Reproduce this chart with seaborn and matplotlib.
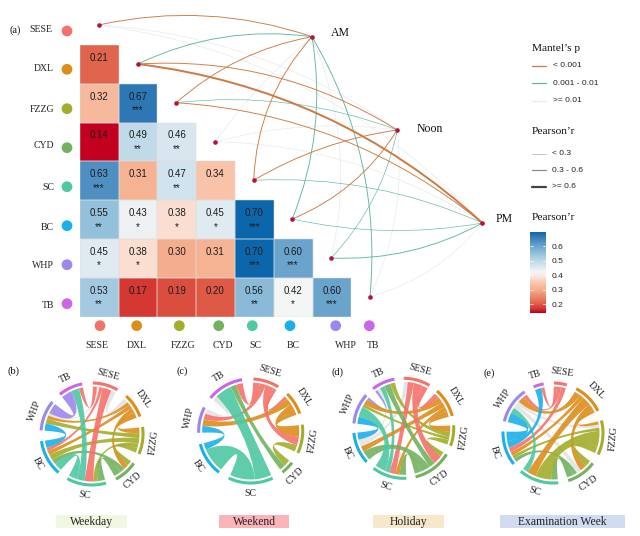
import numpy as np
import pandas as pd
import seaborn as sns
import matplotlib
matplotlib.use("Agg")
import matplotlib.pyplot as plt
from matplotlib.path import Path
from matplotlib.patches import PathPatch, Rectangle
from matplotlib.colors import LinearSegmentedColormap

# ---------- data ----------
VARS = ["SESE", "DXL", "FZZG", "CYD", "SC", "BC", "WHP", "TB"]
R_DXL = [.21]
R_FZZG = [.32, .67]
R_CYD = [.14, .49, .46]
R_SC = [.63, .31, .47, .34]
R_BC = [.55, .43, .38, .45, .70]
R_WHP = [.45, .38, .30, .31, .70, .60]
R_TB = [.53, .17, .19, .20, .56, .42, .60]
STARS = [[""], ["", "***"], ["", "**", "**"], ["***", "", "**", ""],
         ["**", "*", "*", "*", "***"], ["*", "*", "", "", "***", "***"],
         ["**", "", "", "", "**", "*", "***"]]
ENVS = ["AM", "Noon", "PM"]
# per variable: Mantel p class ("o" <0.001, "g" 0.001-0.01, "n" >=0.01)
P_AM = ["o", "g", "o", "n", "o", "g", "n", "g"]
P_NOON = ["n", "o", "g", "n", "o", "o", "g", "n"]
P_PM = ["n", "o", "o", "n", "g", "g", "g", "n"]
# per variable: Pearson r class (0 <0.3, 1 0.3-0.6, 2 >=0.6)
W_AM = [1, 1, 1, 0, 1, 1, 0, 1]
W_NOON = [0, 1, 0, 0, 1, 1, 0, 0]
W_PM = [0, 2, 1, 0, 0, 0, 1, 0]

WEEKDAY = {(0,4):11,(0,1):6,(0,7):5,(0,5):4,(0,6):3,(1,2):7,(1,3):6,(1,5):5,(1,6):4,(2,3):6,(2,5):7,
           (2,4):5,(2,6):6,(3,4):9,(3,5):6,(4,7):10,(4,5):10,(5,6):9,(6,7):13}
WEEKEND = {(0,7):8,(0,2):10,(0,6):7,(0,1):4,(1,6):8,(1,2):14,(2,3):8,(3,7):7,(4,5):30,(4,7):20,(5,6):8,(6,7):6}
HOLIDAY = {(0,3):11,(0,4):8,(0,1):7,(0,5):5,(1,2):8,(1,5):7,(1,6):7,(1,4):5,(2,3):6,(2,7):6,(2,6):4,
           (3,4):8,(3,5):12,(3,7):8,(4,6):13,(4,7):6,(5,6):9,(5,7):4,(6,7):3}
EXAM = {(0,6):5,(0,7):4,(0,5):6,(1,4):11,(1,3):8,(1,6):8,(1,5):5,(1,2):4,(2,4):20,(2,3):8,(2,6):4,(2,5):4,
        (3,4):8,(3,6):6,(3,5):5,(4,6):7,(5,6):12,(5,7):8}
GRAY_LINKS = [{(0,1),(0,6)}, {(6,7)}, {(5,7),(0,5)}, {(3,6),(2,6)}]
PANEL_LETTERS = ["(b)", "(c)", "(d)", "(e)"]
PANEL_NAMES = ["Weekday", "Weekend", "Holiday", "Examination Week"]

# ---------- style / layout ----------
SERIF = "Liberation Serif"
SANS = "Liberation Sans"
VCOL = ["#F4726A", "#DD8D1B", "#A3AD2A", "#72B35F", "#4DC8A3", "#1CB0EB", "#9E86EF", "#CC65E8"]
PCOL = {"o": "#CC7A42", "g": "#5CB8A2", "n": "#E6E8EA"}
LW = {0: .45, 1: .65, 2: 1.4}
CMAP_STOPS = [(0, "#C4001F"), (.054, "#D63A33"), (.125, "#E2664D"), (.286, "#F5AE8D"), (.357, "#F8C3A8"), (.429, "#F9DFD2"),
              (.5, "#F5F5F5"), (.589, "#D1E3EE"), (.696, "#A4CBE1"), (.821, "#6BA5CE"), (.946, "#2F78B5"), (1, "#0B66AC")]
NODE_XY = [(98.7, 25), (137.7, 64), (176.3, 102.7), (215, 141.7), (253.7, 180.3), (292.3, 219), (331.3, 258), (370, 296.7)]
ENV_XY = [(312, 36.7), (397.3, 130), (482.3, 223)]
ENV_TXT = [(340, 33), (430, 128.5), (504, 219)]
BEND = [[.07, .075, .07, .03, .09, -.07, -.08, -.08],
        [.07, .08, .06, .05, .05, -.08, -.07, -.07],
        [.09, .08, .08, .07, .06, -.05, -.07, -.08]]
ROW_Y = [31, 69.3, 108.7, 147.7, 186.7, 225.7, 264.7, 303.7]
ROW_TXT = [(52, 30), (54, 68.7), (54, 109), (54, 146), (54, 187), (54, 227), (54, 265), (54, 305)]
COL_X = [100, 136.7, 179.3, 218.7, 252.3, 290, 335.7, 369.3]
COL_TXT = [96.7, 136.7, 183, 223, 255, 293, 346, 373]
CHORD_POS = [(92, 434, 51, 1), (250.7, 431, 52, 3), (403.7, 428.3, 50, 0), (553, 433, 50, 1)]
LETTER_XY = [(14, 371), (182, 371), (337.3, 372), (489, 373)]
BOX = [(56, 71.3, "#F1F8E1"), (218.7, 70.6, "#FBB4B8"), (372.7, 71.3, "#F6E8C8"), (500.3, 124.4, "#D2DCF0")]

sns.set_theme(style="white")
plt.rcParams["font.family"] = [SERIF, "DejaVu Serif"]
fig = plt.figure(figsize=(6.4, 5.36), dpi=100)

# ---------- heatmap ----------
mat = np.full((7, 7), np.nan)
for i, row in enumerate([R_DXL, R_FZZG, R_CYD, R_SC, R_BC, R_WHP, R_TB]):
    mat[i, :len(row)] = row
df = pd.DataFrame(mat, index=VARS[1:], columns=VARS[:-1])
cmap = LinearSegmentedColormap.from_list("r", CMAP_STOPS)
ax = fig.add_axes([79.7 / 640, 1 - 316.7 / 536, 271.6 / 640, 271.7 / 536])
cax = fig.add_axes([530 / 640, 1 - 312.7 / 536, 16 / 640, 81 / 536])
sns.heatmap(df, ax=ax, cmap=cmap, vmin=.14, vmax=.70, linewidths=0,
            cbar_ax=cax, cbar_kws={"ticks": [.2, .3, .4, .5, .6]}, square=False,
            xticklabels=False, yticklabels=False)
for i in range(7):
    for j in range(i + 1):
        ax.add_patch(Rectangle((j, i), 1, 1, fc="none", ec="#dedede", lw=.35))
        ax.text(j + .5, i + .33, f"{mat[i, j]:.2f}", ha="center", va="center", fontsize=7, family=SANS, color="#1c1c1c")
        if STARS[i][j]:
            ax.text(j + .5, i + .68, STARS[i][j], ha="center", va="center", fontsize=7, family=SANS, color="#1c1c1c")
cax.tick_params(length=0, pad=4, labelsize=6, labelcolor="#222222")
for lab in cax.get_yticklabels():
    lab.set_family(SANS)
for t in [.2, .3, .4, .5, .6]:
    cax.plot([0, .2], [t, t], color="white", lw=.5, transform=cax.get_yaxis_transform())
    cax.plot([.8, 1], [t, t], color="white", lw=.5, transform=cax.get_yaxis_transform())

# ---------- overlay in pixel units ----------
ov = fig.add_axes([0, 0, 1, 1], facecolor="none")
ov.set_xlim(0, 640)
ov.set_ylim(536, 0)
ov.axis("off")

def curve(p, q, bend):
    p, q = np.array(p), np.array(q)
    d = q - p
    ctrl = (p + q) / 2 + 2 * bend * np.array([d[1], -d[0]])
    return Path([p, ctrl, q], [Path.MOVETO, Path.CURVE3, Path.CURVE3])

for order in ("n", "g", "o"):
    for e, (ps, ws) in enumerate(zip([P_AM, P_NOON, P_PM], [W_AM, W_NOON, W_PM])):
        for v in range(8):
            if ps[v] == order:
                ov.add_patch(PathPatch(curve(NODE_XY[v], ENV_XY[e], BEND[e][v]), fc="none",
                                       ec=PCOL[order], lw=LW[ws[v]]))
ov.scatter(*zip(*(NODE_XY + ENV_XY)), s=11, color="#B5123F", zorder=5, linewidths=0)
for name, (x, y) in zip(ENVS, ENV_TXT):
    ov.text(x, y, name, ha="center", va="center", fontsize=8.5, color="#111111")

ov.text(9, 30, "(a)", ha="left", va="center", fontsize=7.5, color="#111111")
ov.scatter([67] * 8, ROW_Y, s=60, c=VCOL, linewidths=0)
ov.scatter(COL_X, [325.7] * 8, s=60, c=VCOL, linewidths=0)
for name, (x, y), cx in zip(VARS, ROW_TXT, COL_TXT):
    ov.text(x, y, name, ha="right", va="center", fontsize=7, color="#222222")
    ov.text(cx, 345, name, ha="center", va="center", fontsize=7, color="#222222")

# ---------- legends ----------
for title, y in [("Mantel\u2019s p", 48.7), ("Pearson\u2019r", 131.7), ("Pearson\u2019r", 217.3)]:
    ov.text(532, y, title, ha="left", va="center", fontsize=8.2, color="#111111")
for label, c, y in [("< 0.001", PCOL["o"], 65.7), ("0.001 - 0.01", PCOL["g"], 83.3), (">= 0.01", PCOL["n"], 100.5)]:
    ov.plot([532, 546], [y, y], color=c, lw=.9)
    ov.text(553.3, y, label, ha="left", va="center", fontsize=6, family=SANS, color="#222222")
for label, c, w, y in [("< 0.3", "#BDBDBD", .6, 153.7), ("0.3 - 0.6", "#8A8A8A", .9, 170), (">= 0.6", "#444444", 1.6, 186.7)]:
    ov.plot([532, 546], [y, y], color=c, lw=w)
    ov.text(551.7, y, label, ha="left", va="center", fontsize=6, family=SANS, color="#222222")

# ---------- chord diagrams ----------
def pol(cx, cy, r, a):
    t = np.deg2rad(a)
    return np.array([cx + r * np.sin(t), cy - r * np.cos(t)])

def chord(flows, grays, cx, cy, R, start):
    totals = np.zeros(8)
    for (i, j), v in flows.items():
        totals[i] += v
        totals[j] += v
    gap = (360 - totals.sum()) / 8
    starts = start + np.concatenate([[0], np.cumsum(totals[:-1] + gap)])
    ends = {}
    for s in range(8):
        partners = [(k, v) for k, v in flows.items() if s in k]
        partners.sort(key=lambda kv: -((kv[0][0] + kv[0][1] - s - s) % 8))
        a = starts[s]
        for k, v in partners:
            ends[(k, s)] = (a, a + v)
            a += v
        arc = np.array([pol(cx, cy, R, x) for x in np.linspace(starts[s], starts[s] + totals[s], 40)])
        ov.plot(arc[:, 0], arc[:, 1], color=VCOL[s], lw=2.2, solid_capstyle="butt", zorder=4)
        mid = (starts[s] + totals[s] / 2) % 360
        rot = -mid if (mid < 90 or mid > 270) else 180 - mid
        px, py = pol(cx, cy, R + 11, mid)
        ov.text(px, py, VARS[s], ha="center", va="center", rotation=rot, rotation_mode="anchor",
                fontsize=7, color="#222222")
    r = R - 3.5
    pull = .42 * r
    for k in sorted(flows, key=lambda k: (k not in grays, flows[k])):
        i, j = k
        a1, a2 = ends[(k, i)]
        b1, b2 = ends[(k, j)]
        verts, codes = [], []
        for n, x in enumerate(np.linspace(a1, a2, 10)):
            verts.append(pol(cx, cy, r, x))
            codes.append(Path.MOVETO if n == 0 else Path.LINETO)
        verts += [pol(cx, cy, pull, a2), pol(cx, cy, pull, b1), pol(cx, cy, r, b1)]
        codes += [Path.CURVE4] * 3
        for x in np.linspace(b1, b2, 10)[1:]:
            verts.append(pol(cx, cy, r, x))
            codes.append(Path.LINETO)
        verts += [pol(cx, cy, pull, b2), pol(cx, cy, pull, a1), pol(cx, cy, r, a1)]
        codes += [Path.CURVE4] * 3
        color = "#E2E3E5" if k in grays else VCOL[i]
        ov.add_patch(PathPatch(Path(verts, codes), fc=color, ec="none", alpha=.9, zorder=2))

for flows, grays, (cx, cy, R, st), let, lxy, name, (bx, bw, bc) in zip(
        [WEEKDAY, WEEKEND, HOLIDAY, EXAM], GRAY_LINKS, CHORD_POS, PANEL_LETTERS, LETTER_XY, PANEL_NAMES, BOX):
    chord(flows, grays, cx, cy, R, st)
    ov.text(lxy[0], lxy[1], let, ha="center", va="center", fontsize=7.5, color="#111111")
    ov.add_patch(Rectangle((bx, 515), bw, 13.3, fc=bc, ec="none"))
    ov.text(bx + bw / 2, 521.8, name, ha="center", va="center", fontsize=8.4, color="#222222")

fig.savefig("out.png", dpi=100)
